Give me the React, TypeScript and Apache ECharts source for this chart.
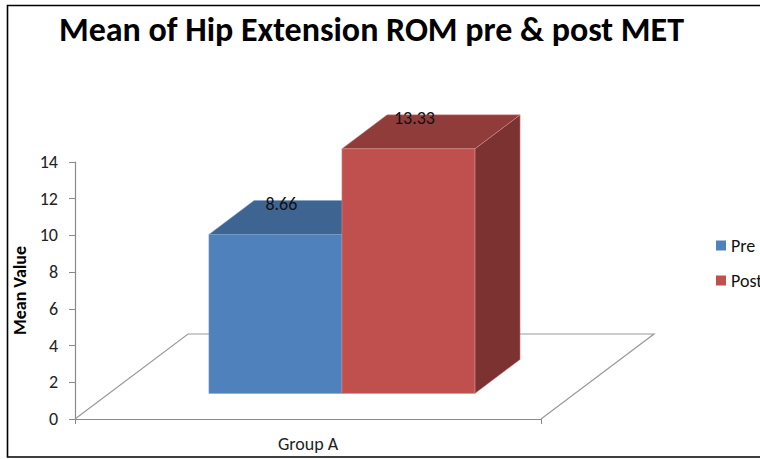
import React, { useEffect, useRef } from "react";
import * as echarts from "echarts";

const categories = ["Group A"];
const seriesNames = ["Pre", "Post"];
const preValues = [8.66];
const postValues = [13.33];
const yTicks = { min: 0, max: 14, interval: 2 };

const FONT = "Carlito, Lato, 'Open Sans', sans-serif";
const DEPTH_X = 113;
const DEPTH_Y = -85;
const FRONT = 0.3;
const BACK = 0.7;
const BAR_FRAC = 0.2854;

const palettes = [
  { front: "#4F81BD", top: "#3E6592", side: "#385D8A", edge: "#7EA1CD" },
  { front: "#C0504D", top: "#8F3C3A", side: "#7B3230", edge: "#D9908E" },
];

function makeBarRender(slot: number) {
  const pal = palettes[slot];
  return (params: any, api: any) => {
    const cat = api.value(0);
    const val = api.value(1);
    const base = api.coord([cat, 0]);
    const top = api.coord([cat, val]);
    const band = api.size([1, 0])[0];
    const w = band * BAR_FRAC;
    const x0 = base[0] - w + slot * w;
    const fx = x0 + FRONT * DEPTH_X;
    const fb = base[1] + FRONT * DEPTH_Y;
    const ft = top[1] + FRONT * DEPTH_Y;
    const bx = (BACK - FRONT) * DEPTH_X;
    const by = (BACK - FRONT) * DEPTH_Y;
    return {
      type: "group",
      children: [
        {
          type: "polygon",
          shape: { points: [[fx + w, ft], [fx + w + bx, ft + by], [fx + w + bx, fb + by], [fx + w, fb]] },
          style: { fill: pal.side, stroke: pal.edge, lineWidth: 0.5 },
        },
        {
          type: "polygon",
          shape: { points: [[fx, ft], [fx + w, ft], [fx + w + bx, ft + by], [fx + bx, ft + by]] },
          style: { fill: pal.top, stroke: pal.edge, lineWidth: 0.5 },
        },
        {
          type: "rect",
          shape: { x: fx, y: ft, width: w, height: fb - ft },
          style: { fill: pal.front, stroke: pal.edge, lineWidth: 0.5 },
        },
        {
          type: "text",
          x: fx + w / 2 + 6,
          y: ft + by + 3,
          style: {
            text: String(val),
            fill: "#111",
            font: `18px ${FONT}`,
            align: "center",
            verticalAlign: "middle",
          },
        },
      ],
    };
  };
}

function renderFloor(params: any, api: any) {
  const base = api.coord([api.value(0), 0]);
  const band = api.size([1, 0])[0];
  const l = base[0] - band / 2;
  const r = base[0] + band / 2;
  const y = base[1];
  return {
    type: "polyline",
    shape: { points: [[l, y], [l + DEPTH_X, y + DEPTH_Y], [r + DEPTH_X, y + DEPTH_Y], [r, y]] },
    style: { stroke: "#9A9A9A", lineWidth: 1.2, fill: "none" },
  };
}

export default function App() {
  const ref = useRef<HTMLDivElement>(null);
  useEffect(() => {
    document.body.style.margin = "0";
    const chart = echarts.init(ref.current!, null, { renderer: "svg" });
    chart.setOption({
      animation: false,
      backgroundColor: "#fff",
      title: {
        text: "Mean of Hip Extension ROM pre & post MET",
        left: 54,
        top: 7,
        textStyle: { fontFamily: FONT, fontWeight: "bold", fontSize: 34, color: "#000" },
      },
      legend: {
        data: seriesNames,
        orient: "vertical",
        left: 711,
        top: 231,
        icon: "rect",
        itemWidth: 10,
        itemHeight: 10,
        itemGap: 16,
        itemStyle: { borderWidth: 0 },
        textStyle: { fontFamily: FONT, fontSize: 18, color: "#111", lineHeight: 19 },
      },
      grid: { left: 75, top: 162, width: 466, height: 257 },
      xAxis: {
        type: "category",
        data: categories,
        axisLine: { lineStyle: { color: "#8A8A8A", width: 1.2 } },
        axisTick: { show: true, length: 5, lineStyle: { color: "#8A8A8A" } },
        axisLabel: { fontFamily: FONT, fontSize: 18, color: "#222", margin: 16 },
      },
      yAxis: {
        type: "value",
        min: yTicks.min,
        max: yTicks.max,
        interval: yTicks.interval,
        name: "Mean Value",
        nameLocation: "middle",
        nameGap: 45,
        nameTextStyle: { fontFamily: FONT, fontWeight: "bold", fontSize: 18, color: "#000" },
        axisLine: { show: true, lineStyle: { color: "#8A8A8A", width: 1.2 } },
        axisTick: { show: true, length: 6, lineStyle: { color: "#8A8A8A" } },
        splitLine: { show: false },
        axisLabel: { fontFamily: FONT, fontSize: 18, color: "#222", margin: 17 },
      },
      graphic: [
        {
          type: "rect",
          shape: { x: 7.5, y: 5.5, width: 800, height: 451.5 },
          style: { fill: "none", stroke: "#000", lineWidth: 1.6 },
          silent: true,
        },
      ],
      series: [
        {
          type: "custom",
          name: "floor",
          silent: true,
          renderItem: renderFloor,
          data: categories.map((c) => [c, 0]),
          z: 1,
        },
        {
          type: "custom",
          name: seriesNames[0],
          itemStyle: { color: palettes[0].front },
          renderItem: makeBarRender(0),
          data: categories.map((c, i) => [c, preValues[i]]),
          z: 2,
        },
        {
          type: "custom",
          name: seriesNames[1],
          itemStyle: { color: palettes[1].front },
          renderItem: makeBarRender(1),
          data: categories.map((c, i) => [c, postValues[i]]),
          z: 3,
        },
      ],
    });
    return () => chart.dispose();
  }, []);
  return <div ref={ref} style={{ width: 760, height: 459 }} />;
}
